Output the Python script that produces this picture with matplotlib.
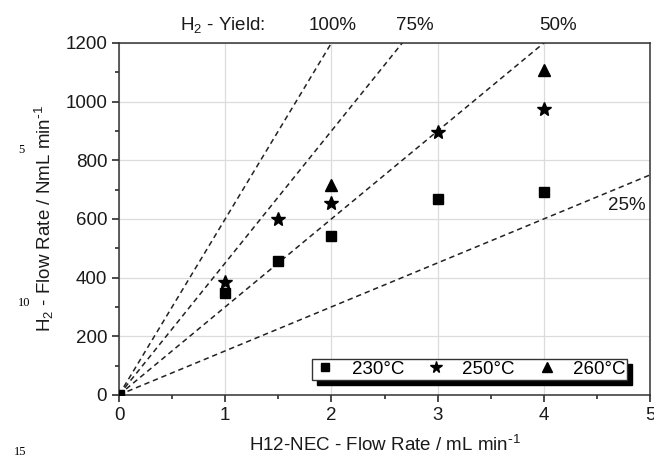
import matplotlib
matplotlib.use("Agg")
import matplotlib.pyplot as plt
from matplotlib.ticker import MultipleLocator

# H12-NEC flow rate (mL/min) vs H2 flow rate (NmL/min)
x_230 = [0, 1, 1.5, 2, 3, 4]
y_230 = [0, 348, 458, 540, 668, 692]
x_250 = [1, 1.5, 2, 3, 4]
y_250 = [385, 600, 655, 897, 975]
x_260 = [2, 4]
y_260 = [715, 1108]

# theoretical yield lines: value at x=0 and x=5
yield_labels = ["100%", "75%", "50%", "25%"]
yield_x = [0, 5]
yield_end = [3000, 2250, 1500, 750]

plt.rcParams["font.family"] = ["Liberation Sans", "DejaVu Sans"]
plt.rcParams["mathtext.default"] = "regular"

fig = plt.figure(figsize=(6.54, 4.57), dpi=100)
ax = fig.add_axes([0.182, 0.136, 0.812, 0.770])

for end in yield_end:
    ax.plot(yield_x, [0, end], color="#222222", linestyle=(0, (3.5, 2.5)), linewidth=1.1, zorder=2)

ax.plot(x_230, y_230, linestyle="none", marker="s", markersize=7.5, color="black", label="230°C", zorder=3)
ax.plot(x_250, y_250, linestyle="none", marker="*", markersize=10, color="black", label="250°C", zorder=3)
ax.plot(x_260, y_260, linestyle="none", marker="^", markersize=9, color="black", label="260°C", zorder=3)

ax.set_xlim(0, 5)
ax.set_ylim(0, 1200)
ax.xaxis.set_major_locator(MultipleLocator(1))
ax.xaxis.set_minor_locator(MultipleLocator(0.5))
ax.yaxis.set_major_locator(MultipleLocator(200))
ax.yaxis.set_minor_locator(MultipleLocator(100))
ax.grid(True, which="major", color="#dcdcdc", linewidth=0.9, zorder=0)
ax.set_axisbelow(True)
ax.tick_params(which="both", direction="out", labelsize=13.5, colors="#1a1a1a", width=1.1)
ax.tick_params(which="major", length=5)
ax.tick_params(which="minor", length=3)
for s in ax.spines.values():
    s.set_linewidth(1.1)
    s.set_color("#333333")

ax.set_xlabel(r"H12-NEC - Flow Rate / mL min$^{\text{-}1}$", fontsize=13.5, labelpad=8, color="#1a1a1a")
ax.set_ylabel(r"H$_2$ - Flow Rate / NmL min$^{\text{-}1}$", fontsize=13.5, labelpad=7, color="#1a1a1a")

# yield annotations above the plot
fig.text(223 / 654, 1 - 25 / 457, "H$_2$ - Yield:", fontsize=13.5, ha="center", va="center", color="#1a1a1a")
label_pos = [(333, 25), (415, 25), (558, 25), (627, 205)]
for lab, (px, py) in zip(yield_labels, label_pos):
    fig.text(px / 654, 1 - py / 457, lab, fontsize=13.5, ha="center", va="center", color="#1a1a1a")

leg = ax.legend(loc="lower right", ncol=3, fontsize=13.5, frameon=True, fancybox=False,
                shadow={"color": "black", "alpha": 1, "ox": 3.5, "oy": -3.5},
                bbox_to_anchor=(0.957, 0.043), borderaxespad=0, borderpad=0.1, handletextpad=0.8,
                columnspacing=1.1, handlelength=1.2, markerscale=0.85)
leg.get_frame().set_edgecolor("#333333")
leg.get_frame().set_linewidth(1.0)

# manuscript line numbers
for txt, px, py in [("5", 21, 150), ("10", 24, 303), ("15", 20, 452)]:
    fig.text(px / 654, 1 - py / 457, txt, fontsize=9, family="Liberation Serif", ha="center", va="center")

fig.savefig("out.png", dpi=100)
